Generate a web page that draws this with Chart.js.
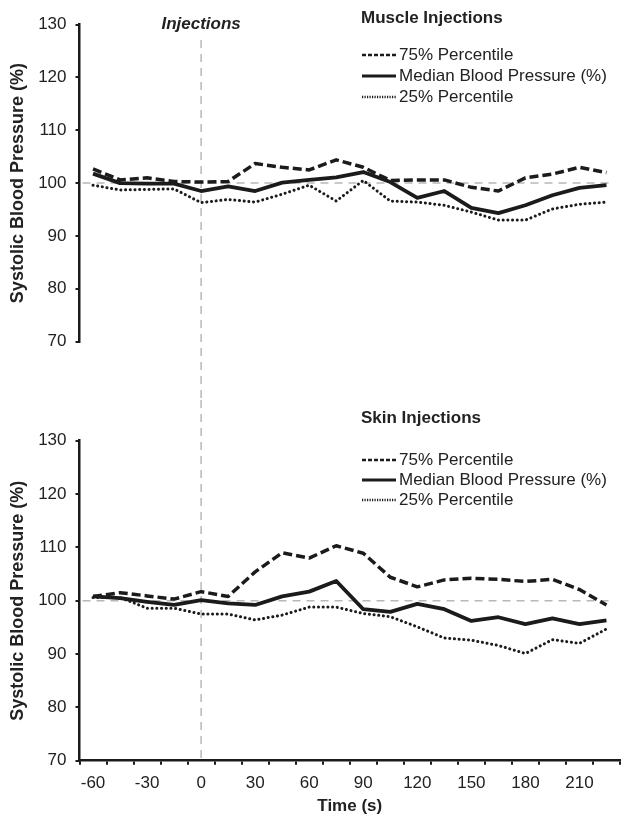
<!DOCTYPE html>
<html><head><meta charset="utf-8">
<script src="https://cdn.jsdelivr.net/npm/chart.js@4.4.1/dist/chart.umd.min.js"></script>
<style>
html,body{margin:0;padding:0;background:#fff;}
#wrap{position:relative;width:629px;height:821px;overflow:hidden;}
.c{position:absolute;left:0;width:629px;}
</style></head><body>
<div id="wrap">
<div class="c" style="top:0;height:400px"><canvas id="topChart"></canvas></div>
<div class="c" style="top:400px;height:421px"><canvas id="botChart"></canvas></div>
</div>
<script>
// ---- data ----
const timeLabels = [-60,-45,-30,-15,0,15,30,45,60,75,90,105,120,135,150,165,180,195,210,225];
const muscleP75    = [102.7,100.6,101.0,100.3,100.2,100.3,103.7,103.0,102.5,104.4,103.0,100.5,100.6,100.6,99.2,98.5,101.0,101.7,103.0,102.0];
const muscleMedian = [101.8,100.0,99.9,99.9,98.5,99.4,98.5,100.1,100.6,101.1,102.1,100.2,97.2,98.5,95.3,94.3,95.8,97.7,99.1,99.6];
const muscleP25    = [99.6,98.7,98.8,98.9,96.3,96.9,96.4,97.9,99.6,96.6,100.5,96.6,96.4,95.8,94.5,93.0,93.0,95.1,96.0,96.4];
const skinP75      = [100.8,101.5,100.9,100.3,101.7,100.8,105.4,109.0,108.0,110.3,108.9,104.4,102.6,103.9,104.2,104.0,103.6,104.0,102.1,99.2];
const skinMedian   = [100.8,100.5,99.8,99.2,100.1,99.5,99.2,100.8,101.7,103.7,98.4,97.9,99.4,98.4,96.2,96.9,95.6,96.7,95.6,96.3];
const skinP25      = [100.6,100.6,98.6,98.6,97.5,97.5,96.4,97.3,98.8,98.8,97.6,97.0,95.1,93.0,92.6,91.6,90.1,92.7,92.0,94.7];
const yTicks = [70,80,90,100,110,120,130];
const seriesNames = ['75% Percentile','Median Blood Pressure (%)','25% Percentile'];
const panelTitles = ['Muscle Injections','Skin Injections'];
const injectionTime = 0;
const baselineLevel = 100;

const INK = '#1b1b1b', TXT = '#222', GREY = '#b8b8b8';
const FONT = '"Liberation Sans", Arial, Helvetica, sans-serif';
const styles = [
  {borderDash:[9,4], borderWidth:3.5, borderCapStyle:'butt'},
  {borderDash:[], borderWidth:3.8, borderCapStyle:'butt'},
  {borderDash:[0.1,4.6], borderWidth:3, borderCapStyle:'round'}
];

function makeDatasets(arrs){
  return arrs.map((d,i)=>Object.assign({
    label: seriesNames[i], data: d, borderColor: INK, backgroundColor: INK,
    pointRadius: 0, tension: 0, fill: false, borderJoinStyle:'round'
  }, styles[i]));
}

function panelPlugin(cfg){
  return {
    id: 'panel'+cfg.idx,
    beforeDatasetsDraw(chart){
      const {ctx, chartArea:a, scales:{x,y}} = chart;
      ctx.save();
      ctx.strokeStyle = GREY; ctx.lineWidth = 1.5; ctx.setLineDash([8,6]);
      const yp = y.getPixelForValue(baselineLevel);
      ctx.beginPath(); ctx.moveTo(a.left+3, yp); ctx.lineTo(a.right-6, yp); ctx.stroke();
      const xp = x.getPixelForValue(timeLabels.indexOf(injectionTime));
      const yTop = cfg.vTop, yBot = cfg.idx===0 ? chart.height : a.bottom;
      ctx.beginPath(); ctx.moveTo(xp, yTop); ctx.lineTo(xp, yBot); ctx.stroke();
      ctx.restore();
    },
    afterDraw(chart){
      const {ctx, scales:{x}} = chart;
      ctx.save();
      ctx.fillStyle = TXT; ctx.textBaseline = 'middle'; ctx.textAlign = 'left';
      ctx.font = 'bold 17px ' + FONT;
      ctx.fillText(panelTitles[cfg.idx], 361, cfg.titleY);
      ctx.font = '17px ' + FONT;
      const sampleDash = [[4,2],[],[1.2,1.3]];
      const sampleW = [2.6,3.2,2.6];
      cfg.entryY.forEach((ey,i)=>{
        ctx.strokeStyle = INK; ctx.lineWidth = sampleW[i]; ctx.setLineDash(sampleDash[i]);
        ctx.beginPath(); ctx.moveTo(362, ey); ctx.lineTo(396, ey); ctx.stroke();
        ctx.setLineDash([]);
        ctx.fillText(seriesNames[i], 399, ey+0.5);
      });
      if (cfg.idx===0){
        const xp = x.getPixelForValue(timeLabels.indexOf(injectionTime));
        ctx.font = 'italic bold 17px ' + FONT; ctx.textAlign = 'center';
        ctx.fillText('Injections', xp, 24);
      }
      ctx.restore();
    }
  };
}

function yScale(){
  return {
    min: yTicks[0], max: yTicks[yTicks.length-1],
    afterBuildTicks: s => { s.ticks = yTicks.map(v=>({value:v})); },
    afterFit: s => { s.width = 79.5; },
    ticks: {color: TXT, font:{family:FONT, size:17}, padding: 9},
    grid: {drawOnChartArea:false, tickLength:4, color:INK, lineWidth:2},
    border: {display:true, color:INK, width:2.5},
    title: {display:true, text:'Systolic Blood Pressure (%)', color:TXT,
            font:{family:FONT, size:18, weight:'bold'}, padding:{top:7,bottom:0}}
  };
}

new Chart(document.getElementById('topChart'), {
  type:'line',
  data:{labels: timeLabels, datasets: makeDatasets([muscleP75, muscleMedian, muscleP25])},
  options:{
    responsive:true, maintainAspectRatio:false, animation:false,
    layout:{padding:{left:0, right:9, top:24.7, bottom:58.5}},
    plugins:{legend:{display:false}, tooltip:{enabled:false}},
    scales:{
      x:{type:'category', offset:true, display:false},
      y: yScale()
    }
  },
  plugins:[panelPlugin({idx:0, vTop:40, titleY:18, entryY:[55,76,97]})]
});

new Chart(document.getElementById('botChart'), {
  type:'line',
  data:{labels: timeLabels, datasets: makeDatasets([skinP75, skinMedian, skinP25])},
  options:{
    responsive:true, maintainAspectRatio:false, animation:false,
    layout:{padding:{left:0, right:9, top:40.7, bottom:0}},
    plugins:{legend:{display:false}, tooltip:{enabled:false}},
    scales:{
      x:{type:'category', offset:true,
         afterFit: s => { s.height = 60.3; },
         ticks:{color:TXT, font:{family:FONT, size:17}, padding:8, autoSkip:false, maxRotation:0,
                callback:(v,i)=> i%2===0 ? String(timeLabels[i]) : ''},
         grid:{offset:true, drawOnChartArea:false, tickLength:4, color:INK, lineWidth:2},
         border:{display:true, color:INK, width:2.5},
         title:{display:true, text:'Time (s)', color:TXT, font:{family:FONT, size:17, weight:'bold'}, padding:{top:0,bottom:4}}
      },
      y: yScale()
    }
  },
  plugins:[panelPlugin({idx:1, vTop:0, titleY:18, entryY:[60,80,100]})]
});
</script>
</body></html>
